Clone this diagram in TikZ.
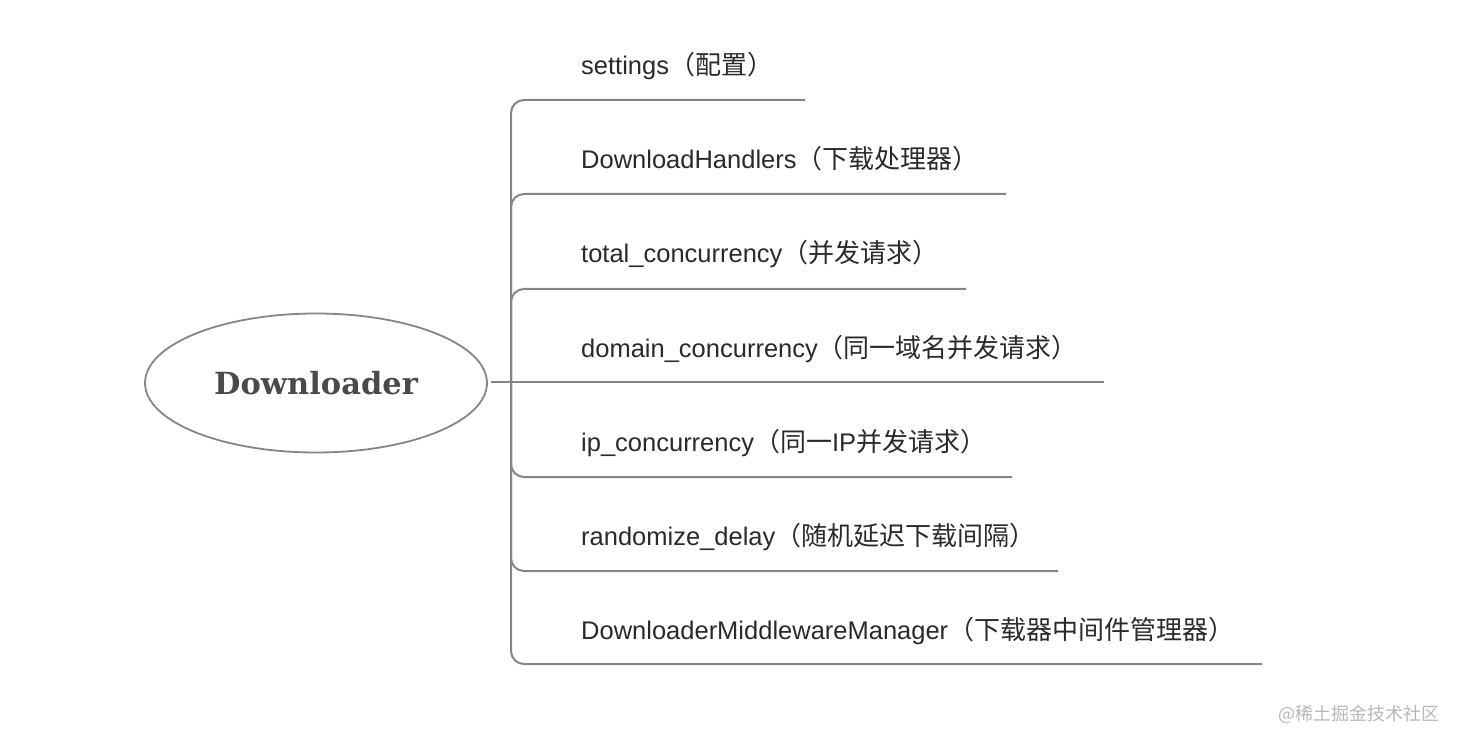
\documentclass[tikz,border=0pt]{standalone}
\usepackage{fontspec}
\setmainfont{Liberation Sans}
\newfontfamily\cjkfam{Noto Sans CJK SC}
\newcommand\cjk{\cjkfam\fontsize{26}{26}\selectfont}
\newfontfamily\slab{DejaVu Serif}
\usetikzlibrary{shapes.geometric}
\definecolor{linegray}{HTML}{858585}
\definecolor{txt}{HTML}{2A2A2A}
\definecolor{roottxt}{HTML}{4A4A4A}
\definecolor{wm}{HTML}{B8B8B8}
\begin{document}
\begin{tikzpicture}[x=1pt,y=-1pt,
  branch/.style={draw=linegray,line width=2pt,rounded corners=13pt},
  label/.style={anchor=base west,inner sep=0pt,text=txt,font=\fontsize{25.5}{25.5}\selectfont},
  rootnode/.style={ellipse,draw=linegray,line width=1.8pt,minimum width=342pt,minimum height=139pt,inner sep=0pt,text=roottxt,font=\slab\bfseries\fontsize{30.5}{30.5}\selectfont}]
\useasboundingbox (0,0) rectangle (1460,746);
\node[rootnode] (root) at (316,383) {Downloader};
\coordinate (hub) at (511,382);
\coordinate (start) at (491,382);
\coordinate (e1) at (805,100);
\coordinate (e2) at (1006,194);
\coordinate (e3) at (966,289);
\coordinate (e4) at (1104,382);
\coordinate (e5) at (1012,477);
\coordinate (e6) at (1058,571);
\coordinate (e7) at (1262,664);
\draw[branch] (hub) |- (e1);
\draw[branch] (hub) |- (e2);
\draw[branch] (hub) |- (e3);
\draw[branch] (start) -- (e4);
\draw[branch] (hub) |- (e5);
\draw[branch] (hub) |- (e6);
\draw[branch] (hub) |- (e7);
\node[label] (t1) at (581,75) {settings{\cjk（配置）}};
\node[label] (t2) at (581,169) {DownloadHandlers{\cjk（下载处理器）}};
\node[label] (t3) at (581,263) {total\_concurrency{\cjk（并发请求）}};
\node[label] (t4) at (581,357) {domain\_concurrency{\cjk（同一域名并发请求）}};
\node[label] (t5) at (581,451) {ip\_concurrency{\cjk（同一}IP{\cjk 并发请求）}};
\node[label] (t6) at (581,545) {randomize\_delay{\cjk（随机延迟下载间隔）}};
\node[label] (t7) at (581,639) {DownloaderMiddlewareManager{\cjk（下载器中间件管理器）}};
\node[anchor=east,inner sep=0pt,text=wm,font=\cjkfam\fontsize{18}{18}\selectfont] (wmark) at (1440,714) {@稀土掘金技术社区};
\end{tikzpicture}
\end{document}
